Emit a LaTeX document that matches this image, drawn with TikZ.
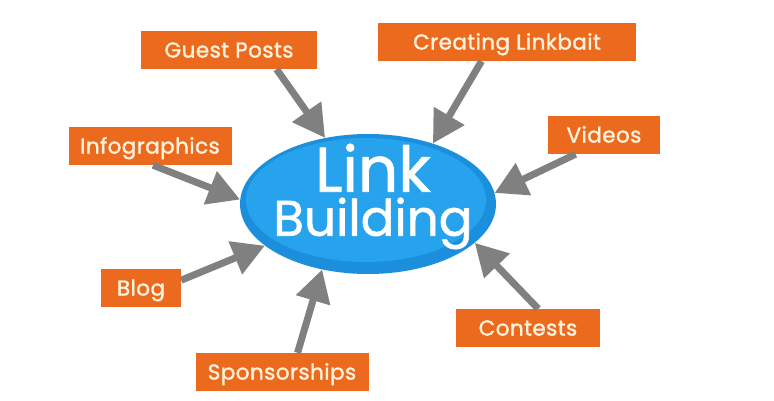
\documentclass[tikz,border=0pt]{standalone}
\usepackage{fontspec}
\setmainfont{Poppins}
\newfontfamily\tagfont{Poppins}[FakeBold=1.5,LetterSpace=2]
\newfontfamily\hubfont{Poppins}[FakeBold=1.2]
\usepackage{tikz}
\usetikzlibrary{arrows.meta,shapes.geometric}
\definecolor{tagorange}{HTML}{EC6A1E}
\definecolor{tagtext}{HTML}{FFF2DC}
\definecolor{hubblue}{HTML}{1B8FDB}
\definecolor{hublight}{HTML}{27A2EC}
\definecolor{arrowgray}{HTML}{808080}
\tikzset{
  % Etichette arancioni
  tag/.style={
    fill=tagorange,
    text=tagtext,
    minimum width=#1pt,
    minimum height=38pt,
    inner sep=0pt,
    text height=15pt,
    text depth=0pt,
    font=\tagfont\fontsize{21.5}{24}\selectfont
  },
  % Ellisse centrale
  hub/.style={
    ellipse,
    fill=hubblue,
    minimum width=256pt,
    minimum height=140pt,
    inner sep=0pt
  },
  hub text/.style={
    text=white,
    align=center,
    inner sep=0pt,
    font=\hubfont\fontsize{50}{44}\selectfont
  },
  % Frecce grigie verso il centro
  feed/.style={
    arrowgray,
    line width=7pt,
    -{Triangle[length=32pt,width=34pt]}
  }
}

\begin{document}
\begin{tikzpicture}[x=1pt,y=-1pt]
    \useasboundingbox (0,0) rectangle (774,400);
    \fill[white] (0,0) rectangle (774,400);

    % Ellisse con riflesso interno
    \node[hub] (lb) at (368,204) {};
    \fill[hublight] (366,200) ellipse (120pt and 62pt);
    \node[hub text] (lbtext) at (373,196.5) {{\fontsize{63}{44}\selectfont Link}\\Building};

    % Etichette
    \node[tag=176] (gp) at (229,50)  {Guest Posts};
    \node[tag=258] (cl) at (507,42)  {Creating Linkbait};
    \node[tag=163] (ig) at (150,146) {Infographics};
    \node[tag=112] (vd) at (604,135) {Videos};
    \node[tag=80]  (bl) at (141,288) {Blog};
    \node[tag=144] (ct) at (528,328) {Contests};
    \node[tag=173] (sp) at (282,372) {Sponsorships};

    % Frecce
    \draw[feed] (gp.-22)  -- (lb.123);
    \draw[feed] (cl.-143) -- (lb.43);
    \draw[feed] (ig.-81)  -- (lb.178);
    \draw[feed] (vd.-146) -- (lb.5);
    \draw[feed] (bl.11)   -- (lb.-158);
    \draw[feed] (sp.51)   -- (lb.-125);
    \draw[feed] (ct.62)   -- (lb.-20);
  %  \draw[feed] (gp) -- (lb);
\end{tikzpicture}
\end{document}
